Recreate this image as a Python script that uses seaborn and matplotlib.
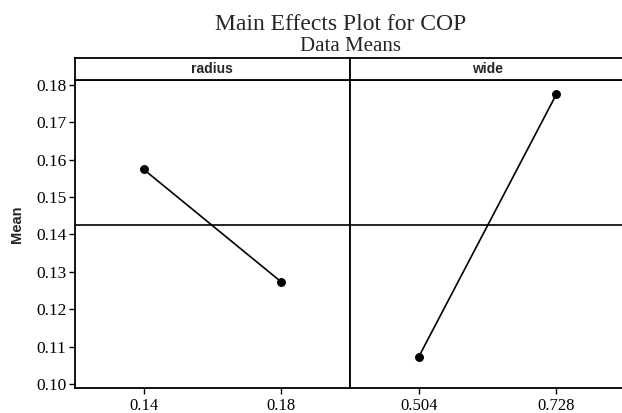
import matplotlib
matplotlib.use("Agg")
import matplotlib.pyplot as plt
import seaborn as sns
import pandas as pd

# ---- data ----
factors = ["radius", "wide"]
radius_levels = ["0.14", "0.18"]
radius_means = [0.1574, 0.1273]
wide_levels = ["0.504", "0.728"]
wide_means = [0.1073, 0.1775]
y_ticks = [0.10, 0.11, 0.12, 0.13, 0.14, 0.15, 0.16, 0.17, 0.18]
y_tick_labels = ["0.10", "0.11", "0.12", "0.13", "0.14", "0.15", "0.16", "0.17", "0.18"]
title = "Main Effects Plot for COP"
subtitle = "Data Means"
y_label = "Mean"

sns.set_theme(style="white")
plt.rcParams["font.family"] = ["Liberation Serif", "DejaVu Serif"]

W, H = 622, 413
fig = plt.figure(figsize=(W / 100, H / 100), dpi=100)
fig.patch.set_facecolor("white")

left = 74.7 / W
mid = 350.0 / W
right = 625.3 / W
bottom = 1 - 388.3 / H
top = 1 - 79.7 / H
htop = 1 - 58.3 / H

ylim = (0.09885, 0.18134)
overall = (sum(radius_means) + sum(wide_means)) / 4.0

panels = [
    (factors[0], radius_levels, radius_means, left, mid),
    (factors[1], wide_levels, wide_means, mid, right),
]

lw = 1.3
for i, (name, levels, means, x0, x1) in enumerate(panels):
    ax = fig.add_axes([x0, bottom, x1 - x0, top - bottom])
    df = pd.DataFrame({"level": levels, "mean": means})
    sns.pointplot(data=df, x="level", y="mean", order=levels, color="black",
                  markers="o", markersize=5.5, linewidth=1.2, errorbar=None, ax=ax)
    ax.axhline(overall, color="black", lw=1.2, zorder=1)
    ax.set_xlim(-0.5, 1.5)
    ax.set_ylim(*ylim)
    ax.set_xlabel("")
    ax.set_ylabel("")
    ax.set_facecolor("white")
    for s in ax.spines.values():
        s.set_visible(True)
        s.set_color("black")
        s.set_linewidth(lw)
    ax.tick_params(axis="x", direction="out", length=4, width=1, color="black",
                   bottom=True, labelsize=12, pad=3, labelcolor="black")
    if i == 0:
        ax.set_yticks(y_ticks)
        ax.set_yticklabels(y_tick_labels)
        ax.tick_params(axis="y", direction="out", length=4, width=1, color="black",
                       left=True, labelsize=12.5, pad=2, labelcolor="black")
    else:
        ax.set_yticks(y_ticks)
        ax.tick_params(axis="y", left=False, labelleft=False)
    for lab in ax.get_xticklabels() + ax.get_yticklabels():
        lab.set_fontfamily(["Liberation Serif", "DejaVu Serif"])

    hax = fig.add_axes([x0, top, x1 - x0, htop - top])
    hax.set_xticks([])
    hax.set_yticks([])
    hax.set_facecolor("white")
    for s in hax.spines.values():
        s.set_color("black")
        s.set_linewidth(lw)
    hax.text(0.5, 0.5, name, ha="center", va="center", fontsize=10,
             fontweight="bold", family=["Liberation Sans", "DejaVu Sans"],
             transform=hax.transAxes)

fig.text(341 / W, 1 - 30 / H, title, ha="center", va="baseline", fontsize=17,
         family=["Liberation Serif", "DejaVu Serif"])
fig.text(350 / W, 1 - 51 / H, subtitle, ha="center", va="baseline", fontsize=15,
         family=["Liberation Serif", "DejaVu Serif"])
fig.text(17 / W, 1 - 224 / H, y_label, ha="center", va="center", rotation=90,
         fontsize=10.5, fontweight="bold", family=["Liberation Sans", "DejaVu Sans"])

fig.savefig("out.png", dpi=100, facecolor="white")
